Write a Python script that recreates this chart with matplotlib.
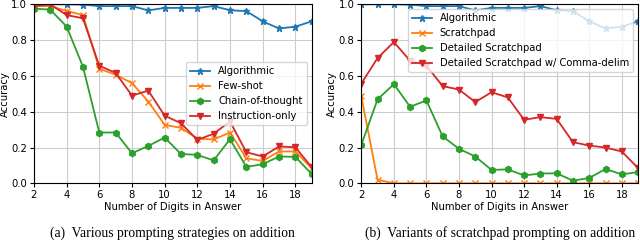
import matplotlib
matplotlib.use("Agg")
import matplotlib.pyplot as plt
import numpy as np

digits = list(range(2, 20))

# (a) prompting strategies
algorithmic = [1.0, 1.0, 1.0, 0.998, 0.99, 0.99, 0.99, 0.966, 0.98, 0.98, 0.98, 0.99, 0.967, 0.962, 0.905, 0.865, 0.875, 0.905]
few_shot = [0.99, 0.99, 0.963, 0.94, 0.64, 0.607, 0.56, 0.457, 0.327, 0.31, 0.25, 0.245, 0.284, 0.14, 0.125, 0.178, 0.178, 0.085]
chain_of_thought = [0.976, 0.97, 0.876, 0.652, 0.284, 0.284, 0.168, 0.209, 0.256, 0.164, 0.159, 0.128, 0.247, 0.092, 0.107, 0.15, 0.148, 0.052]
instruction_only = [0.99, 1.0, 0.94, 0.922, 0.657, 0.617, 0.49, 0.518, 0.378, 0.336, 0.243, 0.277, 0.346, 0.174, 0.15, 0.206, 0.202, 0.09]

# (b) scratchpad variants
scratchpad = [0.487, 0.02, 0.0, 0.0, 0.0, 0.0, 0.0, 0.0, 0.0, 0.0, 0.0, 0.0, 0.0, 0.0, 0.0, 0.0, 0.0, 0.0]
detailed = [0.215, 0.469, 0.554, 0.428, 0.463, 0.262, 0.193, 0.15, 0.075, 0.078, 0.044, 0.055, 0.056, 0.015, 0.03, 0.08, 0.05, 0.063]
comma_delim = [0.557, 0.70, 0.789, 0.685, 0.657, 0.543, 0.524, 0.454, 0.509, 0.48, 0.355, 0.37, 0.36, 0.23, 0.211, 0.2, 0.178, 0.085]

fs = 7.2
plt.rcParams['font.size'] = fs

fig = plt.figure(figsize=(6.4, 2.4), dpi=100)
ax1 = fig.add_axes([0.053, 0.236, 0.434, 0.746])
ax2 = fig.add_axes([0.5645, 0.236, 0.4325, 0.746])

kw = dict(lw=1.3, ms=4.5)
ax1.plot(digits, algorithmic, marker='*', color='tab:blue', label='Algorithmic', **kw)
ax1.plot(digits, few_shot, marker='x', color='tab:orange', label='Few-shot', **kw)
ax1.plot(digits, chain_of_thought, marker='h', color='tab:green', label='Chain-of-thought', **kw)
ax1.plot(digits, instruction_only, marker='v', color='tab:red', label='Instruction-only', **kw)
ax1.legend(loc='center right', fontsize=fs)

ax2.plot(digits, algorithmic, marker='*', color='tab:blue', label='Algorithmic', **kw)
ax2.plot(digits, scratchpad, marker='x', color='tab:orange', label='Scratchpad', **kw)
ax2.plot(digits, detailed, marker='h', color='tab:green', label='Detailed Scratchpad', **kw)
ax2.plot(digits, comma_delim, marker='v', color='tab:red', label='Detailed Scratchpad w/ Comma-delim', **kw)
ax2.legend(loc='upper right', fontsize=fs)

for ax in (ax1, ax2):
    ax.set_xlim(2, 19)
    ax.set_ylim(0, 1)
    ax.set_xticks(np.arange(2, 19, 2))
    ax.set_yticks(np.arange(0, 1.01, 0.2))
    ax.grid(True, color='#cccccc', lw=0.8)
    ax.tick_params(labelsize=fs, length=3, pad=2)
    ax.set_xlabel('Number of Digits in Answer', fontsize=fs, labelpad=1)
    ax.set_ylabel('Accuracy', fontsize=fs, labelpad=1)

fig.text(0.053 + 0.434 / 2, 0.03, '(a)  Various prompting strategies on addition',
         ha='center', va='center', family='Liberation Serif', fontsize=9.8)
fig.text(0.5645 + 0.4325 / 2, 0.03, '(b)  Variants of scratchpad prompting on addition',
         ha='center', va='center', family='Liberation Serif', fontsize=9.8)

fig.savefig('out.png', dpi=100)
